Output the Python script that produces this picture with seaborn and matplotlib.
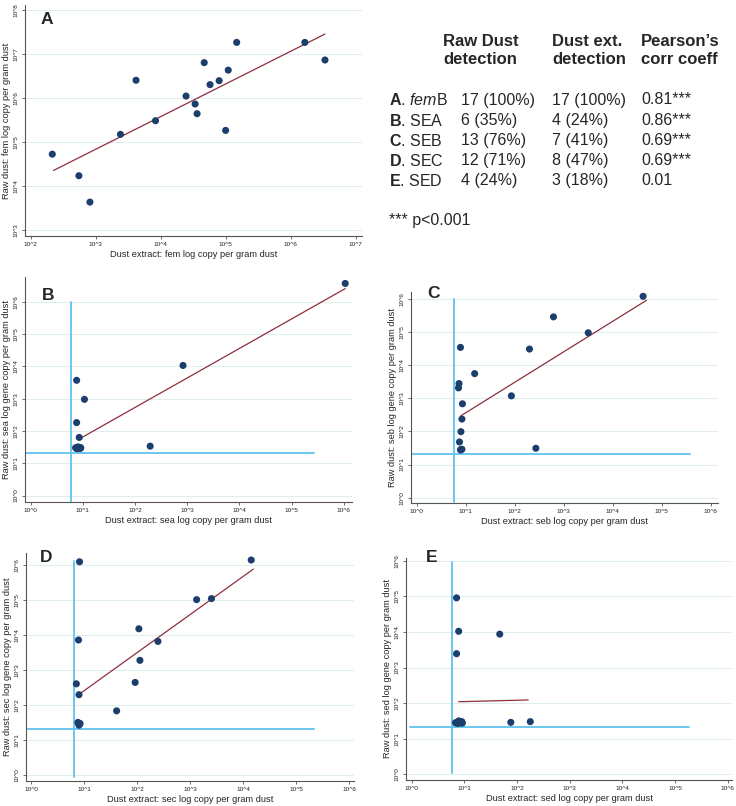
import numpy as np
import seaborn as sns
import matplotlib.pyplot as plt
from matplotlib.ticker import NullLocator

sns.set_theme(style="white")
plt.rcParams["font.family"] = ["Liberation Sans", "DejaVu Sans"]
plt.rcParams["mathtext.fontset"] = "custom"
plt.rcParams["mathtext.rm"] = "Liberation Sans"
plt.rcParams["mathtext.it"] = "Liberation Sans:italic"
plt.rcParams["mathtext.bf"] = "Liberation Sans:bold"

DOT = "#1b3e6c"
FIT = "#8e2f3b"
REF = "#62c3ee"
GRID = "#e2edf0"

# %% values (log10 copies per gram dust)
fem_ext = [2.33, 2.74, 2.91, 3.38, 3.62, 3.92, 4.39, 4.53, 4.56, 4.67, 4.76, 4.90, 5.04, 5.00, 5.17, 6.22, 6.53]
fem_raw = [4.72, 4.23, 3.63, 5.17, 6.40, 5.48, 6.04, 5.86, 5.64, 6.80, 6.30, 6.39, 6.63, 5.26, 7.26, 7.26, 6.86]
fem_fit_x = [2.35, 6.53]
fem_fit_y = [4.35, 7.45]

sea_ext = [6.03, 2.92, 0.88, 1.03, 0.88, 0.93, 2.29, 0.86, 0.88, 0.90, 0.92, 0.94, 0.96, 0.89, 0.91, 0.93, 0.95]
sea_raw = [6.57, 4.03, 3.57, 2.98, 2.26, 1.80, 1.53, 1.48, 1.46, 1.50, 1.47, 1.49, 1.48, 1.45, 1.50, 1.47, 1.46]
sea_fit_x = [0.95, 6.03]
sea_fit_y = [1.77, 6.41]

seb_ext = [4.62, 2.79, 3.50, 2.30, 0.89, 1.18, 0.86, 0.85, 1.93, 0.93, 0.92, 0.90, 0.87, 0.89, 0.92, 0.90, 2.43]
seb_raw = [6.07, 5.45, 4.97, 4.48, 4.53, 3.74, 3.44, 3.31, 3.07, 2.83, 2.37, 1.99, 1.68, 1.44, 1.46, 1.45, 1.49]
seb_fit_x = [0.90, 4.69]
seb_fit_y = [2.47, 5.95]

sec_ext = [0.91, 4.15, 3.12, 3.40, 2.03, 2.39, 0.89, 2.05, 1.96, 0.85, 0.90, 1.61, 0.88, 0.92, 0.90, 0.91, 0.89]
sec_raw = [6.08, 6.13, 5.00, 5.03, 4.17, 3.81, 3.85, 3.27, 2.64, 2.60, 2.29, 1.83, 1.50, 1.47, 1.42, 1.45, 1.48]
sec_fit_x = [0.90, 4.19]
sec_fit_y = [2.30, 5.87]

sed_ext = [0.85, 0.89, 1.67, 0.85, 1.88, 2.25, 0.83, 0.85, 0.87, 0.89, 0.91, 0.93, 0.95, 0.96, 0.88, 0.90, 0.92]
sed_raw = [4.96, 4.02, 3.94, 3.39, 1.46, 1.48, 1.45, 1.44, 1.47, 1.50, 1.46, 1.45, 1.48, 1.44, 1.43, 1.49, 1.47]
sed_fit_x = [0.89, 2.21]
sed_fit_y = [2.04, 2.09]

# detection limit lines: x limit, its y span, y limit, its x span
sea_limits = [0.77, [-0.20, 6.00], 1.31, [-0.11, 5.43]]
seb_limits = [0.76, [-0.12, 6.00], 1.33, [-0.12, 5.58]]
sec_limits = [0.80, [-0.06, 6.10], 1.31, [-0.10, 5.33]]
sed_limits = [0.77, [0.05, 5.96], 1.33, [-0.04, 5.26]]

# table
tab_header = ["Raw Dust\ndetection", "Dust ext.\ndetection", "Pearson\u2019s\ncorr coeff"]
tab_rows = [r"$\mathbf{A}$. $\mathit{fem}$B", r"$\mathbf{B}$. SEA", r"$\mathbf{C}$. SEB",
            r"$\mathbf{D}$. SEC", r"$\mathbf{E}$. SED"]
raw_detect = ["17 (100%)", "6 (35%)", "13 (76%)", "12 (71%)", "4 (24%)"]
ext_detect = ["17 (100%)", "4 (24%)", "7 (41%)", "8 (47%)", "3 (18%)"]
pearson = ["0.81***", "0.86***", "0.69***", "0.69***", "0.01"]
footnote = "*** p<0.001"

# %%
fig = plt.figure(figsize=(7.36, 8.06), dpi=100)
W, H = 736, 806


def px_rect(l, t, r, b):
    return [l / W, 1 - b / H, (r - l) / W, (b - t) / H]


def draw_panel(rect, letter, letter_xy, gene, ylab, ext, raw, fit_x, fit_y,
               xlim, ylim, xt, yt, limits=None):
    ax = fig.add_axes(px_rect(*rect))
    if limits is not None:
        vx, vy, hy, hx = limits
        ax.plot(10 ** np.array([vx, vx]), 10 ** np.array(vy), color=REF, lw=1.3, zorder=2)
        ax.plot(10 ** np.array(hx), 10 ** np.array([hy, hy]), color=REF, lw=1.3, zorder=2)
    sns.lineplot(x=10 ** np.array(fit_x), y=10 ** np.array(fit_y), ax=ax, color=FIT,
                 lw=0.9, estimator=None, sort=False, zorder=3)
    sns.scatterplot(x=10 ** np.array(ext), y=10 ** np.array(raw), ax=ax, color=DOT,
                    s=26, edgecolor="none", zorder=4)
    ax.set_xscale("log")
    ax.set_yscale("log")
    ax.set_xlim(10 ** xlim[0], 10 ** xlim[1])
    ax.set_ylim(10 ** ylim[0], 10 ** ylim[1])
    ax.set_xticks([10.0 ** k for k in xt], [f"10^{k}" for k in xt])
    ax.set_yticks([10.0 ** k for k in yt], [f"10^{k}" for k in yt])
    ax.xaxis.set_minor_locator(NullLocator())
    ax.yaxis.set_minor_locator(NullLocator())
    ax.yaxis.grid(True, color=GRID, lw=0.8)
    ax.xaxis.grid(False)
    ax.set_axisbelow(True)
    ax.tick_params(axis="both", bottom=True, left=True, length=2.5, width=0.6,
                   color="#555555", labelsize=4.6, labelcolor="#222222", pad=2)
    for lab in ax.get_yticklabels():
        lab.set_rotation(90)
        lab.set_va("center")
    sns.despine(ax=ax)
    for s in ["left", "bottom"]:
        ax.spines[s].set_color("#555555")
        ax.spines[s].set_linewidth(0.8)
    ax.set_xlabel(f"Dust extract: {gene} log copy per gram dust", fontsize=6.7, labelpad=2)
    ax.set_ylabel(ylab, fontsize=6.7, labelpad=2)
    fig.text(letter_xy[0] / W, 1 - letter_xy[1] / H, letter, fontsize=12.5,
             fontweight="bold", ha="left", va="center")
    return ax


draw_panel((25, 5, 362, 236), "A", (41, 19), "fem", "Raw dust: fem log copy per gram dust",
           fem_ext, fem_raw, fem_fit_x, fem_fit_y, (1.91, 7.1), (2.86, 8.11),
           range(2, 8), range(3, 9))
draw_panel((25, 277, 352, 502), "B", (42, 295), "sea", "Raw dust: sea log gene copy per gram dust",
           sea_ext, sea_raw, sea_fit_x, sea_fit_y, (-0.11, 6.16), (-0.2, 6.77),
           range(0, 7), range(0, 7), sea_limits)
draw_panel((411, 292, 718, 503), "C", (427, 294), "seb", "Raw dust: seb log gene copy per gram dust",
           seb_ext, seb_raw, seb_fit_x, seb_fit_y, (-0.12, 6.15), (-0.16, 6.2),
           range(0, 7), range(0, 7), seb_limits)
draw_panel((26, 553, 354, 781), "D", (40, 557), "sec", "Raw dust: sec log gene copy per gram dust",
           sec_ext, sec_raw, sec_fit_x, sec_fit_y, (-0.1, 6.09), (-0.17, 6.33),
           range(0, 7), range(0, 7), sec_limits)
draw_panel((406, 558, 732, 780), "E", (426, 557), "sed", "Raw dust: sed log gene copy per gram dust",
           sed_ext, sed_raw, sed_fit_x, sed_fit_y, (-0.11, 6.08), (-0.16, 6.08),
           range(0, 7), range(0, 7), sed_limits)

# %% table in the top right
col_x = [461, 552, 641]
head_x = [443, 552, 641]
for hx, txt in zip(head_x, tab_header):
    fig.text(hx / W, 1 - 50 / H, txt, fontsize=12, fontweight="bold", ha="left",
             va="center", linespacing=1.25)
row_y = [100, 120.5, 140.5, 160.5, 180.5]
for i, ry in enumerate(row_y):
    y = 1 - ry / H
    fig.text(389 / W, y, tab_rows[i], fontsize=11.5, ha="left", va="center")
    fig.text(col_x[0] / W, y, raw_detect[i], fontsize=11.5, ha="left", va="center")
    fig.text(col_x[1] / W, y, ext_detect[i], fontsize=11.5, ha="left", va="center")
    fig.text(col_x[2] / W, y, pearson[i], fontsize=11.5, ha="left", va="center")
fig.text(389 / W, 1 - 220 / H, footnote, fontsize=11.5, ha="left", va="center")

fig.savefig("out.png", dpi=100)
